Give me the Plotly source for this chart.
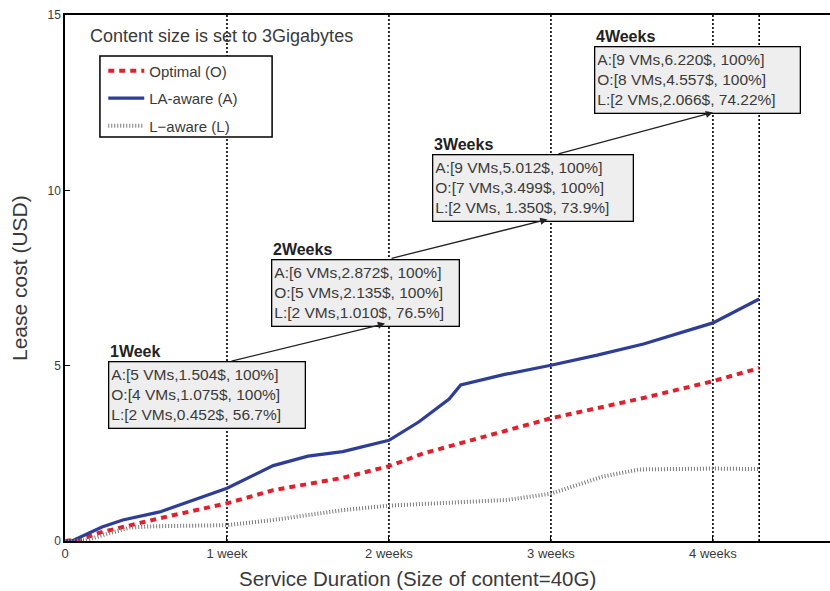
import plotly.graph_objects as go

# Service duration in days, lease cost in USD
days_O = [0, 0.7, 1.5, 2.5, 4.1, 7, 9, 12, 14, 15.5, 17.8, 21, 25, 28, 30]
cost_O = [0, 0.05, 0.24, 0.4, 0.65, 1.075, 1.45, 1.8, 2.135, 2.5, 2.93, 3.499, 4.08, 4.557, 4.93]

days_A = [0, 0.3, 1.6, 2.5, 4.1, 7, 9, 10.5, 12, 14, 15.3, 16.6, 17.1, 19, 21, 23, 25, 28, 30]
cost_A = [0, 0.0, 0.4, 0.6, 0.83, 1.504, 2.15, 2.42, 2.55, 2.872, 3.4, 4.05, 4.45, 4.75, 5.012, 5.3, 5.62, 6.22, 6.9]

days_L = [0, 0.9, 1.9, 2.8, 3.8, 7, 9, 12, 14, 17.8, 19.1, 21, 23.2, 24.8, 28, 30]
cost_L = [0, 0.02, 0.22, 0.38, 0.42, 0.452, 0.6, 0.88, 1.01, 1.15, 1.17, 1.35, 1.83, 2.04, 2.066, 2.05]

tick_days = [0, 7, 14, 21, 28]
tick_text = ["0", "1 week", "2 weeks", "3 weeks", "4 weeks"]
marker_days = [7, 14, 21, 28, 30]

# Summary boxes at each week
box_titles = ["1Week", "2Weeks", "3Weeks", "4Weeks"]
box_lines = [
    ["A:[5 VMs,1.504$, 100%]", "O:[4 VMs,1.075$, 100%]", "L:[2 VMs,0.452$, 56.7%]"],
    ["A:[6 VMs,2.872$, 100%]", "O:[5 VMs,2.135$, 100%]", "L:[2 VMs,1.010$, 76.5%]"],
    ["A:[9 VMs,5.012$, 100%]", "O:[7 VMs,3.499$, 100%]", "L:[2 VMs, 1.350$, 73.9%]"],
    ["A:[9 VMs,6.220$, 100%]", "O:[8 VMs,4.557$, 100%]", "L:[2 VMs,2.066$, 74.22%]"],
]
box_x = [1.86, 8.90, 15.85, 22.86]
box_y = [5.12, 8.05, 11.03, 14.11]
box_w = [199, 190, 203, 208]

FONT = "Liberation Sans, Arial, sans-serif"
TXT = "#3a3a3a"

fig = go.Figure()
fig.add_trace(go.Scatter(x=days_O, y=cost_O, mode="lines", name="Optimal (O)", legendgroup="o",
                         line=dict(color="#e0202c", width=4, dash="6px,5px")))
fig.add_trace(go.Scatter(x=days_A, y=cost_A, mode="lines", name="LA-aware (A)", legendgroup="a",
                         line=dict(color="#2e3d96", width=3.2)))
fig.add_trace(go.Scatter(x=days_L, y=cost_L, mode="lines", name="L\u2212aware (L)", legendgroup="l",
                         line=dict(color="#7a7a7a", width=4, dash="1px,2px")))

shapes = []
for d in marker_days:
    shapes.append(dict(type="line", xref="x", yref="paper", x0=d, x1=d, y0=0, y1=1,
                       line=dict(color="black", width=1.6, dash="2px,2px"), layer="below"))
# legend frame
shapes.append(dict(type="rect", xref="x", yref="y", x0=1.51, x1=8.95, y0=11.52, y1=13.83,
                   line=dict(color="black", width=1.5), fillcolor="white", layer="below"))

annotations = [
    dict(text="Content size is set to 3Gigabytes", x=0.98, y=14.4, xref="x", yref="y",
         xanchor="left", yanchor="middle", showarrow=False,
         font=dict(family=FONT, size=18, color=TXT)),
    dict(text="Service Duration (Size of content=40G)", x=15.25, y=0, xref="x", yref="paper",
         xanchor="center", yanchor="middle", yshift=-37, showarrow=False,
         font=dict(family=FONT, size=20.5, color=TXT)),
    dict(text="Lease cost (USD)", x=0, y=0.5, xref="paper", yref="paper", textangle=-90,
         xanchor="center", yanchor="middle", xshift=-46, showarrow=False,
         font=dict(family=FONT, size=21, color=TXT)),
]
for i in range(4):
    annotations.append(dict(
        text="<br>".join(box_lines[i]), x=box_x[i], y=box_y[i], xref="x", yref="y",
        xanchor="left", yanchor="top", align="left", showarrow=False,
        bgcolor="#eeeeee", bordercolor="black", borderwidth=1.3, borderpad=2,
        width=box_w[i] - 8, height=61,
        font=dict(family=FONT, size=15.5, color=TXT)))
    annotations.append(dict(
        text="<b>%s</b>" % box_titles[i], x=box_x[i], y=box_y[i], xref="x", yref="y",
        xanchor="left", yanchor="bottom", showarrow=False, yshift=-1,
        font=dict(family=FONT, size=16, color="#222")))

# Arrows linking consecutive boxes
tails = [(7.13, 5.12), (14.05, 8.05), (21.26, 11.03)]
heads = [(13.83, 6.2), (20.85, 9.17), (28.0, 12.22)]
for (tx, ty), (hx, hy) in zip(tails, heads):
    annotations.append(dict(x=hx, y=hy, ax=tx, ay=ty, xref="x", yref="y",
                            axref="x", ayref="y", text="", showarrow=True,
                            arrowhead=2, arrowsize=1.1, arrowwidth=1.3, arrowcolor="#222"))

fig.update_layout(
    width=830, height=591,
    margin=dict(l=65, r=0, t=15, b=50),
    paper_bgcolor="white", plot_bgcolor="white",
    font=dict(family=FONT, color=TXT),
    shapes=shapes, annotations=annotations,
    legend=dict(x=0.05, y=0.925, xanchor="left", yanchor="top",
                bgcolor="rgba(0,0,0,0)", borderwidth=0,
                font=dict(family=FONT, size=15, color=TXT),
                tracegroupgap=5, itemwidth=36),
    xaxis=dict(range=[0, 33.06], tickvals=tick_days, ticktext=tick_text,
               ticks="inside", ticklen=5, tickcolor="black",
               showline=True, linecolor="black", linewidth=1.5, mirror=True,
               showgrid=False, zeroline=False,
               tickfont=dict(family=FONT, size=13, color=TXT)),
    yaxis=dict(range=[0, 15], tickvals=[0, 5, 10, 15],
               ticks="inside", ticklen=5, tickcolor="black",
               showline=True, linecolor="black", linewidth=1.5, mirror=False,
               showgrid=False, zeroline=False,
               tickfont=dict(family=FONT, size=12, color=TXT)),
)

fig.write_html("out.html")
